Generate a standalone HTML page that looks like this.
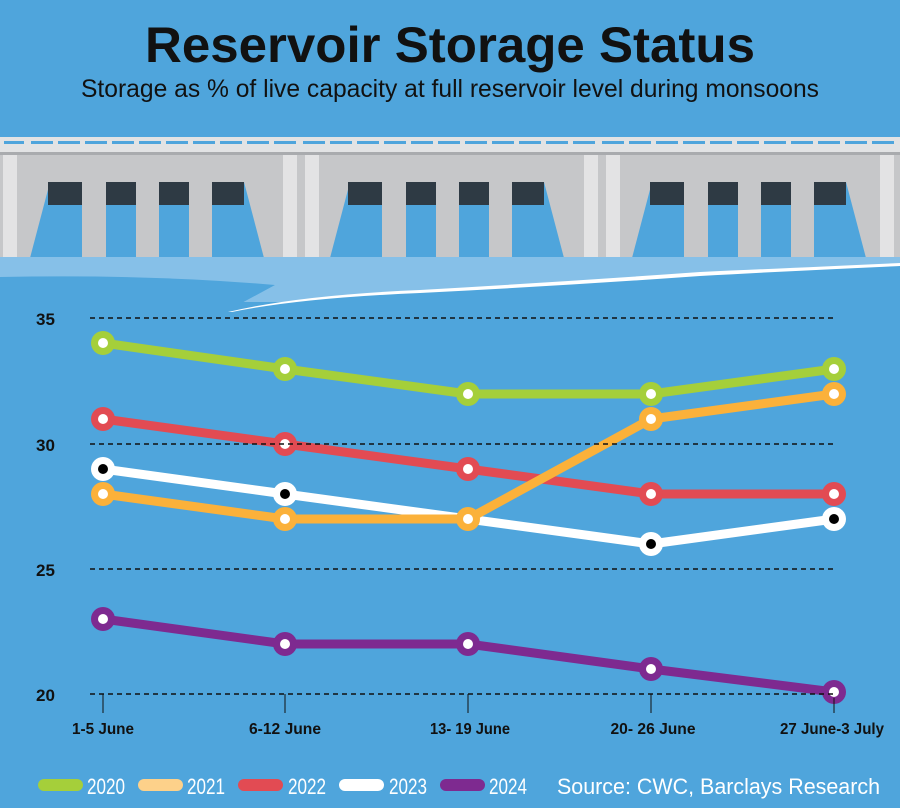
<!DOCTYPE html>
<html><head><meta charset="utf-8"><style>
body{margin:0;width:900px;height:808px;background:#4fa5dc;overflow:hidden;font-family:"Liberation Sans",sans-serif}
</style></head><body>
<svg width="900" height="808" viewBox="0 0 900 808" xmlns="http://www.w3.org/2000/svg" style="position:absolute;left:0;top:0">
<rect width="900" height="808" fill="#4fa5dc"/>
<text x="450" y="62" text-anchor="middle" font-family="Liberation Sans Narrow, Liberation Sans, sans-serif" font-weight="bold" font-size="50" fill="#111" textLength="610" lengthAdjust="spacingAndGlyphs">Reservoir Storage Status</text>
<text x="450" y="97" text-anchor="middle" font-family="Liberation Sans Narrow, Liberation Sans, sans-serif" font-size="25" fill="#111" textLength="738" lengthAdjust="spacingAndGlyphs">Storage as % of live capacity at full reservoir level during monsoons</text>
<rect x="0" y="137" width="900" height="16" fill="#e2e3e4"/>
<rect x="0" y="152" width="900" height="3" fill="#a9abae"/>
<rect x="0" y="155" width="900" height="105" fill="#c6c7c9"/>
<g fill="#e3e3e4">
<rect x="3" y="155" width="14" height="105"/><rect x="283" y="155" width="14" height="105"/><rect x="305" y="155" width="14" height="105"/><rect x="584" y="155" width="14" height="105"/><rect x="606" y="155" width="14" height="105"/><rect x="880" y="155" width="14" height="105"/>
</g>
<g fill="#4fa5dc">
<rect x="4" y="141" width="20" height="3"/><rect x="31" y="141" width="22" height="3"/><rect x="58" y="141" width="22" height="3"/><rect x="85" y="141" width="22" height="3"/><rect x="112" y="141" width="22" height="3"/><rect x="139" y="141" width="22" height="3"/><rect x="166" y="141" width="22" height="3"/><rect x="193" y="141" width="22" height="3"/><rect x="220" y="141" width="22" height="3"/><rect x="247" y="141" width="22" height="3"/><rect x="274" y="141" width="22" height="3"/><rect x="303" y="141" width="22" height="3"/><rect x="330" y="141" width="22" height="3"/><rect x="357" y="141" width="22" height="3"/><rect x="384" y="141" width="22" height="3"/><rect x="411" y="141" width="22" height="3"/><rect x="438" y="141" width="22" height="3"/><rect x="465" y="141" width="22" height="3"/><rect x="492" y="141" width="22" height="3"/><rect x="519" y="141" width="22" height="3"/><rect x="546" y="141" width="22" height="3"/><rect x="573" y="141" width="22" height="3"/><rect x="602" y="141" width="22" height="3"/><rect x="629" y="141" width="22" height="3"/><rect x="656" y="141" width="22" height="3"/><rect x="683" y="141" width="22" height="3"/><rect x="710" y="141" width="22" height="3"/><rect x="737" y="141" width="22" height="3"/><rect x="764" y="141" width="22" height="3"/><rect x="791" y="141" width="22" height="3"/><rect x="818" y="141" width="22" height="3"/><rect x="845" y="141" width="22" height="3"/><rect x="872" y="141" width="22" height="3"/>
</g>
<g id="g1">
<path d="M50 182 L82 182 L82 258 L30 258 Z" fill="#4fa5dc"/><rect x="48" y="182" width="34" height="23" fill="#2e3a44"/>
<rect x="106" y="182" width="30" height="76" fill="#4fa5dc"/><rect x="106" y="182" width="30" height="23" fill="#2e3a44"/>
<rect x="159" y="182" width="30" height="76" fill="#4fa5dc"/><rect x="159" y="182" width="30" height="23" fill="#2e3a44"/>
<path d="M212 182 L244 182 L264 258 L212 258 Z" fill="#4fa5dc"/><rect x="212" y="182" width="32" height="23" fill="#2e3a44"/>
</g>
<use href="#g1" x="300"/>
<use href="#g1" x="602"/>
<rect x="0" y="257" width="900" height="45" fill="#86c0e8"/>
<path d="M0 277 Q150 274 275 285 L225 312 L0 312 Z" fill="#4fa5dc"/>
<path d="M228 312 Q300 297 420 292 Q560 284 700 274 Q790 270 900 266 L900 312 Z" fill="#4fa5dc"/>
<path d="M228 312 Q300 295 420 290 Q560 282 700 272 Q790 268 900 263 L900 266 Q790 271 700 276 Q560 286 420 293 Q300 298 232 312Z" fill="#fff"/>
<g fill="none" stroke-width="9" stroke-linejoin="round">
<polyline stroke="#a5cf3a" points="103,343 285,369 468,394 651,394 834,369"/>
<polyline stroke="#e24b53" points="103,419 285,444 468,469 651,494 834,494"/>
<polyline stroke="#fff" points="103,469 285,494 468,519 651,544 834,519"/>
<polyline stroke="#fbb13a" points="103,494 285,519 468,519 651,419 834,394"/>
<polyline stroke="#7e2a90" points="103,619 285,644 468,644 651,669 834,692"/>
</g>
<g fill="#a5cf3a"><circle cx="103" cy="343" r="12"/><circle cx="285" cy="369" r="12"/><circle cx="468" cy="394" r="12"/><circle cx="651" cy="394" r="12"/><circle cx="834" cy="369" r="12"/></g>
<g fill="#e24b53"><circle cx="103" cy="419" r="12"/><circle cx="285" cy="444" r="12"/><circle cx="468" cy="469" r="12"/><circle cx="651" cy="494" r="12"/><circle cx="834" cy="494" r="12"/></g>
<g fill="#fff"><circle cx="103" cy="469" r="12"/><circle cx="285" cy="494" r="12"/><circle cx="651" cy="544" r="12"/><circle cx="834" cy="519" r="12"/></g>
<g fill="#fbb13a"><circle cx="103" cy="494" r="12"/><circle cx="285" cy="519" r="12"/><circle cx="468" cy="519" r="12"/><circle cx="651" cy="419" r="12"/><circle cx="834" cy="394" r="12"/></g>
<g fill="#7e2a90"><circle cx="103" cy="619" r="12"/><circle cx="285" cy="644" r="12"/><circle cx="468" cy="644" r="12"/><circle cx="651" cy="669" r="12"/><circle cx="834" cy="692" r="12"/></g>
<g fill="#fff">
<circle cx="103" cy="343" r="5"/><circle cx="285" cy="369" r="5"/><circle cx="468" cy="394" r="5"/><circle cx="651" cy="394" r="5"/><circle cx="834" cy="369" r="5"/>
<circle cx="103" cy="419" r="5"/><circle cx="285" cy="444" r="5"/><circle cx="468" cy="469" r="5"/><circle cx="651" cy="494" r="5"/><circle cx="834" cy="494" r="5"/>
<circle cx="103" cy="494" r="5"/><circle cx="285" cy="519" r="5"/><circle cx="468" cy="519" r="5"/><circle cx="651" cy="419" r="5"/><circle cx="834" cy="394" r="5"/>
<circle cx="103" cy="619" r="5"/><circle cx="285" cy="644" r="5"/><circle cx="468" cy="644" r="5"/><circle cx="651" cy="669" r="5"/><circle cx="834" cy="692" r="5"/>
</g>
<g fill="#000"><circle cx="103" cy="469" r="5"/><circle cx="285" cy="494" r="5"/><circle cx="651" cy="544" r="5"/><circle cx="834" cy="519" r="5"/></g>
<g stroke="#111" stroke-width="1.5" stroke-dasharray="5,4">
<line x1="90" y1="318" x2="836" y2="318"/><line x1="90" y1="444" x2="836" y2="444"/><line x1="90" y1="569" x2="836" y2="569"/><line x1="90" y1="694" x2="836" y2="694"/>
</g>
<g stroke="#111" stroke-width="1">
<line x1="103" y1="694" x2="103" y2="713"/><line x1="285" y1="694" x2="285" y2="713"/><line x1="468" y1="694" x2="468" y2="713"/><line x1="651" y1="694" x2="651" y2="713"/><line x1="834" y1="698" x2="834" y2="713"/>
</g>
<g font-family="Liberation Sans Narrow, Liberation Sans, sans-serif" font-weight="bold" font-size="17" fill="#111">
<text x="36" y="325">35</text><text x="36" y="451">30</text><text x="36" y="576">25</text><text x="36" y="701">20</text>
</g>
<g font-family="Liberation Sans Narrow, Liberation Sans, sans-serif" font-weight="bold" font-size="16" fill="#111" text-anchor="middle">
<text x="103" y="734" textLength="62" lengthAdjust="spacingAndGlyphs">1-5 June</text>
<text x="285" y="734" textLength="72" lengthAdjust="spacingAndGlyphs">6-12 June</text>
<text x="470" y="734" textLength="80" lengthAdjust="spacingAndGlyphs">13- 19 June</text>
<text x="653" y="734" textLength="85" lengthAdjust="spacingAndGlyphs">20- 26 June</text>
<text x="832" y="734" textLength="104" lengthAdjust="spacingAndGlyphs">27 June-3 July</text>
</g>
<rect x="38" y="779" width="45" height="12" rx="6" fill="#a5cf3a"/>
<rect x="138" y="779" width="45" height="12" rx="6" fill="#fdd18a"/>
<rect x="238" y="779" width="45" height="12" rx="6" fill="#e24b53"/>
<rect x="339" y="779" width="45" height="12" rx="6" fill="#fff"/>
<rect x="440" y="779" width="45" height="12" rx="6" fill="#7e2a90"/>
<g font-family="Liberation Sans Narrow, Liberation Sans, sans-serif" font-size="22" fill="#fff">
<text x="87" y="794" textLength="38" lengthAdjust="spacingAndGlyphs">2020</text>
<text x="187" y="794" textLength="38" lengthAdjust="spacingAndGlyphs">2021</text>
<text x="288" y="794" textLength="38" lengthAdjust="spacingAndGlyphs">2022</text>
<text x="389" y="794" textLength="38" lengthAdjust="spacingAndGlyphs">2023</text>
<text x="489" y="794" textLength="38" lengthAdjust="spacingAndGlyphs">2024</text>
<text x="557" y="794" textLength="323" lengthAdjust="spacingAndGlyphs">Source: CWC, Barclays Research</text>
</g>
</svg>
</body></html>
